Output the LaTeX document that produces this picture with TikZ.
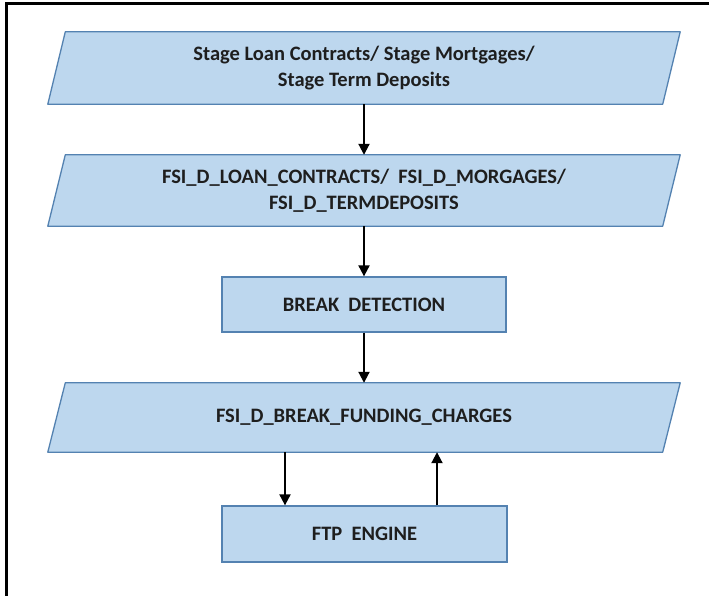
\documentclass[tikz,border=0pt]{standalone}
\usepackage{fontspec}
\setmainfont{Carlito}
\usetikzlibrary{arrows.meta,backgrounds}
\definecolor{boxfill}{RGB}{189,215,238}
\definecolor{boxline}{RGB}{84,130,177}
\definecolor{txt}{RGB}{30,30,30}
\tikzset{
  base/.style={inner sep=0pt, font=\bfseries\fontsize{20.5}{26}\selectfont, text=txt, align=center},
  parabox/.style={base, rectangle, minimum width=632pt},
  rectbox/.style={base, rectangle, draw=boxline, fill=boxfill, line width=1.3pt},
  arr/.style={line width=2pt, -{Triangle[width=11pt,length=11pt]}},
  paraline/.style={draw=boxline, fill=boxfill, line width=1.3pt, line join=round}
}
\newcommand{\paraback}[1]{%
  \begin{pgfonlayer}{background}
    \path[paraline] ([xshift=17.5pt]#1.north west) -- (#1.north east) -- ([xshift=-17.5pt]#1.south east) -- (#1.south west) -- cycle;
  \end{pgfonlayer}}
\begin{document}
\begin{tikzpicture}[x=1pt,y=-1pt]
\useasboundingbox (0,0) rectangle (709,596);
\begin{pgfonlayer}{background}
\fill[white] (0,0) rectangle (709,596);
\end{pgfonlayer}
\draw[line width=3pt] (6,597) -- (6,4) -- (710,4);

\node[parabox, minimum height=72pt] (p1) at (364,68) {Stage Loan Contracts/ Stage Mortgages/\\Stage Term Deposits};
\paraback{p1}
\node[parabox, minimum height=71pt] (p2) at (364,190.5) {FSI\_D\_LOAN\_CONTRACTS/\ \ FSI\_D\_MORGAGES/\\FSI\_D\_TERMDEPOSITS};
\paraback{p2}
\node[rectbox, minimum width=284pt, minimum height=55pt] (bd) at (364,304.5) {BREAK\ \ DETECTION};
\node[parabox, minimum height=69pt] (p3) at (364,417.5) {FSI\_D\_BREAK\_FUNDING\_CHARGES};
\paraback{p3}
\node[rectbox, minimum width=285pt, minimum height=56pt] (ftp) at (364.5,534) {FTP\ \ ENGINE};

\draw[arr] (p1) -- (p2);
\draw[arr] (p2) -- (bd);
\draw[arr] (bd) -- (p3);
\draw[arr] ([xshift=-79pt]p3.south) -- ([xshift=-79.5pt]ftp.north);
\draw[arr] ([xshift=72.5pt]ftp.north) -- ([xshift=73pt]p3.south);
\end{tikzpicture}
\end{document}
